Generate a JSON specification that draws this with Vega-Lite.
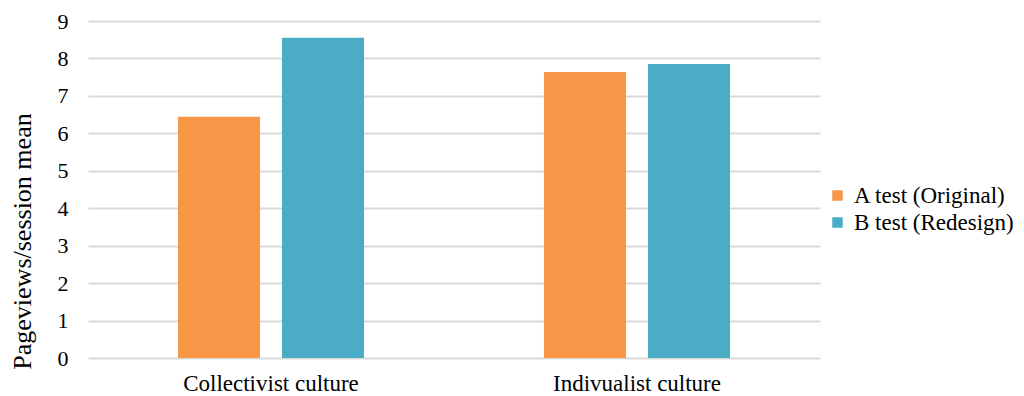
{
  "$schema": "https://vega.github.io/schema/vega-lite/v6.json",
  "width": 732,
  "height": 337,
  "autosize": {"type": "none"},
  "padding": {"left": 88, "top": 21, "right": 204, "bottom": 38},
  "background": "white",
  "config": {
    "view": {"stroke": null},
    "font": "Times New Roman, Liberation Serif, serif",
    "axis": {"labelFont": "Times New Roman, Liberation Serif, serif", "titleFont": "Times New Roman, Liberation Serif, serif"},
    "legend": {"labelFont": "Times New Roman, Liberation Serif, serif"}
  },
  "data": {
    "values": [
      {"culture": "Collectivist culture", "test": "A test (Original)", "mean": 6.44},
      {"culture": "Collectivist culture", "test": "B test (Redesign)", "mean": 8.55},
      {"culture": "Indivualist culture", "test": "A test (Original)", "mean": 7.64},
      {"culture": "Indivualist culture", "test": "B test (Redesign)", "mean": 7.85}
    ]
  },
  "mark": {"type": "bar"},
  "encoding": {
    "x": {
      "field": "culture",
      "type": "nominal",
      "sort": null,
      "scale": {"paddingInner": 0, "paddingOuter": 0},
      "axis": {
        "title": null,
        "labelAngle": 0,
        "labelFont": "Times New Roman, Liberation Serif, serif",
        "labelFontSize": 23,
        "labelLimit": 400,
        "labelColor": "#000000",
        "labelPadding": 14,
        "ticks": false,
        "domain": false
      }
    },
    "xOffset": {
      "field": "test",
      "type": "nominal",
      "scale": {"paddingInner": 0.2115, "paddingOuter": 0.865}
    },
    "y": {
      "field": "mean",
      "type": "quantitative",
      "scale": {"domain": [0, 9], "nice": false},
      "axis": {
        "title": "Pageviews/session mean",
        "titleFont": "Times New Roman, Liberation Serif, serif",
        "titleFontSize": 26,
        "titleFontWeight": "normal",
        "titleColor": "#000000",
        "titleX": -66,
        "titleY": 220,
        "titleAngle": -90,
        "titleAlign": "center",
        "titleBaseline": "middle",
        "values": [0, 1, 2, 3, 4, 5, 6, 7, 8, 9],
        "labelFont": "Times New Roman, Liberation Serif, serif",
        "labelFontSize": 22,
        "labelColor": "#000000",
        "labelPadding": 20,
        "ticks": false,
        "domain": false,
        "grid": true,
        "gridColor": "#d9d9d9",
        "gridWidth": 2
      }
    },
    "color": {
      "field": "test",
      "type": "nominal",
      "scale": {"range": ["#F79646", "#4BACC6"]},
      "legend": {
        "title": null,
        "orient": "none",
        "legendX": 738,
        "legendY": 163,
        "symbolType": "square",
        "symbolSize": 110,
        "symbolStrokeWidth": 0,
        "labelFont": "Times New Roman, Liberation Serif, serif",
        "labelFontSize": 23,
        "labelLimit": 300,
        "labelColor": "#000000",
        "labelOffset": 5,
        "rowPadding": 3
      }
    }
  }
}
